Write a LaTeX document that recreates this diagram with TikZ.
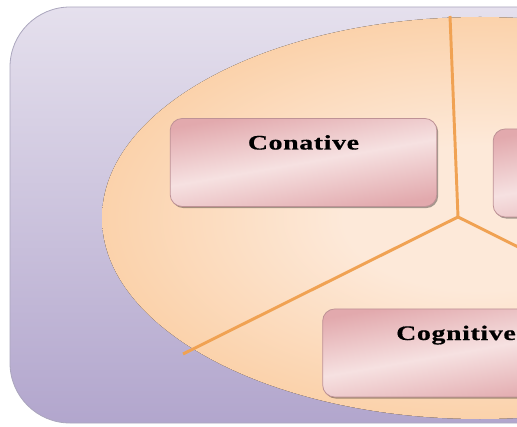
\documentclass[tikz,border=0pt]{standalone}
\usepackage{fontspec}
\newfontfamily\partfont[FakeStretch=1.35,LetterSpace=3,FakeBold=0.6]{Liberation Serif}
\usetikzlibrary{shadows}

\definecolor{panetop}{HTML}{E5E0ED}
\definecolor{panebottom}{HTML}{B2A6CD}
\definecolor{paneline}{HTML}{ABA6BD}
\definecolor{piein}{HTML}{FDE9D9}
\definecolor{pieout}{HTML}{FBD2AB}
\definecolor{slice}{HTML}{F0A253}
\definecolor{partdark}{HTML}{E2A9AD}
\definecolor{partlight}{HTML}{F6E1E1}
\definecolor{partedge}{HTML}{BE9296}
\pgfdeclareradialshading{pie}{\pgfpoint{0bp}{0bp}}{color(0bp)=(piein);
  color(9bp)=(piein); color(25bp)=(pieout); color(50bp)=(pieout)}

\begin{document}
\begin{tikzpicture}[x=0.75pt,y=-0.75pt,
    part/.style={draw=partedge, line width=0.6pt, rounded corners=9pt,
      top color=partdark, bottom color=partdark, middle color=partlight,
      shading angle=10, minimum width=200pt, inner ysep=0pt,
      text height=23.25pt, text depth=42.75pt,
      font=\partfont\bfseries\fontsize{15.5}{18}\selectfont,
      drop shadow={shadow xshift=1pt, shadow yshift=-1.2pt, fill=black, opacity=0.35}},
    divider/.style={draw=slice, line width=2.2pt}]
    \useasboundingbox (0,0) rectangle (517,427);
    \clip (0,0) rectangle (517,427);

    \draw[draw=paneline, line width=0.6pt, rounded corners=45pt,
      top color=panetop, bottom color=panebottom] (10,7) rectangle (600,423);
    \fill[shading=pie] (480,218) ellipse [x radius=378, y radius=201];

    \coordinate (hub) at (458,217);
    \coordinate (up) at (450,16);
    \coordinate (leftend) at (183,354);
    \coordinate (rightend) at (733,354);
    \draw[divider] (hub) -- (up);
    \draw[divider] (hub) -- (leftend);
    \draw[divider] (hub) -- (rightend);

    \node[part] (conative) at (303.5,162.5) {Conative};
    \node[part] (cognitive) at (456,353) {Cognitive};
    \node[part] (affective) at (626.5,173) {};
\end{tikzpicture}
\end{document}
